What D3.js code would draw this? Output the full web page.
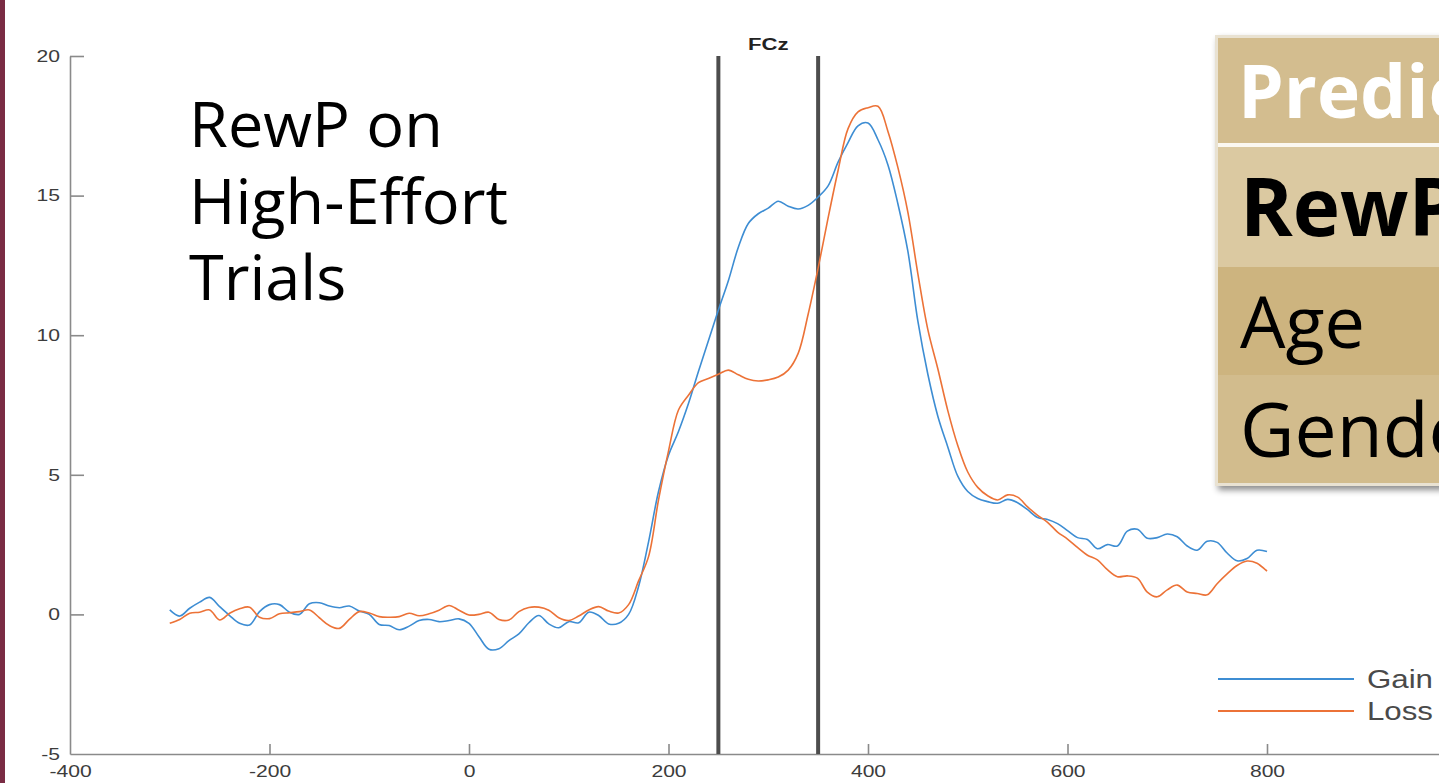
<!DOCTYPE html>
<html>
<head>
<meta charset="utf-8">
<script src="https://cdn.jsdelivr.net/npm/d3@7.9.0/dist/d3.min.js"></script>
<style>
  html, body { margin: 0; padding: 0; background: #fff; overflow: hidden; }
  svg { display: block; }
</style>
</head>
<body>
<svg id="chart" width="1439" height="783"></svg>
<script>
// time points (ms), one every 10 ms from -300 to 800
const times = d3.range(-300, 801, 10);

// Gain condition (blue)
const gainValues = [
  0.16, -0.06, 0.22, 0.44, 0.61, 0.28, -0.04, -0.32, -0.38, 0.1,
  0.35, 0.35, 0.08, 0.0, 0.38, 0.42, 0.3, 0.24, 0.3, 0.12,
  0.0, -0.36, -0.4, -0.55, -0.42, -0.22, -0.18, -0.26, -0.22, -0.16,
  -0.32, -0.8, -1.25, -1.23, -0.94, -0.7, -0.3, -0.04, -0.34, -0.48,
  -0.26, -0.3, 0.08, -0.04, -0.34, -0.32, 0.0, 1.0, 2.6, 4.4,
  5.7, 6.55, 7.55, 8.7, 9.8, 10.9, 11.95, 13.15, 14.0, 14.35,
  14.55, 14.8, 14.62, 14.52, 14.65, 14.95, 15.35, 16.2, 16.9, 17.5,
  17.6, 17.0, 16.1, 14.7, 13.0, 10.5, 8.6, 7.1, 6.0, 4.95,
  4.4, 4.15, 4.04, 3.98, 4.12, 4.0, 3.75, 3.47, 3.4, 3.25,
  3.0, 2.75, 2.68, 2.35, 2.5, 2.45, 2.98, 3.05, 2.73, 2.75,
  2.88, 2.78, 2.45, 2.3, 2.62, 2.58, 2.2, 1.92, 2.0, 2.3,
  2.25
];

// Loss condition (orange)
const lossValues = [
  -0.32, -0.18, 0.04, 0.08, 0.16, -0.2, 0.04, 0.2, 0.26, -0.1,
  -0.15, 0.02, 0.06, 0.1, 0.16, -0.12, -0.4, -0.5, -0.18, 0.1,
  0.05, -0.08, -0.1, -0.08, 0.04, -0.05, 0.02, 0.15, 0.32, 0.15,
  -0.02, 0.0, 0.08, -0.18, -0.2, 0.1, 0.25, 0.26, 0.15, -0.12,
  -0.22, -0.06, 0.16, 0.28, 0.12, 0.05, 0.35, 1.2, 2.07, 4.1,
  5.85, 7.32, 7.85, 8.3, 8.45, 8.6, 8.75, 8.58, 8.42, 8.36,
  8.4, 8.5, 8.75, 9.35, 10.75, 12.4, 14.2, 15.9, 17.4, 18.0,
  18.15, 18.2, 17.3, 16.0, 14.4, 12.2, 10.2, 8.8, 7.3, 6.05,
  5.1, 4.55, 4.25, 4.1, 4.28, 4.2, 3.85, 3.55, 3.3, 2.95,
  2.7, 2.4, 2.12, 1.95, 1.6, 1.35, 1.38, 1.3, 0.8, 0.63,
  0.88, 1.05, 0.8, 0.75, 0.7, 1.1, 1.45, 1.75, 1.91, 1.83,
  1.55
];

const seriesNames = ["Gain", "Loss"];
const seriesColors = ["#3d8dd3", "#ec7237"];

const xTicks = [-400, -200, 0, 200, 400, 600, 800];
const yTicks = [-5, 0, 5, 10, 15, 20];

// analysis window (ms)
const windowEdges = [250, 350];

const titleLines = ["RewP on", "High-Effort", "Trials"];
const tableRows = ["Predictor", "RewP", "Age", "Gender"];

const svg = d3.select("#chart");

// stretch factor of the original figure's small text
const sx = 1.28;

const x = d3.scaleLinear().domain([-400, 1000]).range([70, 1466.5]);
const y = d3.scaleLinear().domain([-5, 20]).range([754, 56]);

// maroon slide edge on the left
svg.append("rect")
  .attr("x", 0).attr("y", 0)
  .attr("width", 5).attr("height", 783)
  .attr("fill", "#7a2c44");

// axes
const axisColor = "#8a8a8a";
const labelColor = "#3c3c3c";
const plainFormat = d => String(d);

const yAxis = svg.append("g")
  .attr("transform", `translate(${x(-400)},0)`)
  .call(d3.axisLeft(y).tickValues(yTicks).tickFormat(plainFormat)
    .tickSize(-14).tickSizeOuter(0).tickPadding(10));

const xAxis = svg.append("g")
  .attr("transform", `translate(0,${y(-5)})`)
  .call(d3.axisBottom(x).tickValues(xTicks).tickFormat(plainFormat)
    .tickSize(-10).tickSizeOuter(0).tickPadding(11));

[yAxis, xAxis].forEach(g => {
  g.selectAll("path, line").attr("stroke", axisColor).attr("stroke-width", 1.6);
  g.selectAll("text")
    .attr("fill", labelColor)
    .style("font-family", "'Liberation Sans', Arial, sans-serif")
    .style("font-size", "16.5px");
});
// the original figure is stretched horizontally
yAxis.selectAll("text").attr("x", -10 / sx).attr("transform", `scale(${sx},1)`);
xAxis.selectAll("text").attr("x", 0).attr("transform", `scale(${sx},1)`);
yAxis.selectAll(".tick").filter(d => d === -5).select("line").remove();
xAxis.selectAll(".tick").filter(d => d === -400).select("line").remove();

// analysis window lines
svg.append("g").selectAll("line")
  .data(windowEdges)
  .join("line")
  .attr("x1", d => x(d)).attr("x2", d => x(d))
  .attr("y1", y(20)).attr("y2", y(-5))
  .attr("stroke", "#4d4d4d")
  .attr("stroke-width", 4);

svg.append("text")
  .attr("transform", `translate(${x(300)},50) scale(1.38,1)`)
  .attr("text-anchor", "middle")
  .style("font-family", "'Liberation Sans', Arial, sans-serif")
  .style("font-weight", "bold")
  .style("font-size", "16px")
  .attr("fill", "#222")
  .text("FCz");

// waveforms
const line = d3.line()
  .x(d => x(d[0]))
  .y(d => y(d[1]))
  .curve(d3.curveCatmullRom.alpha(0.5));

const series = [gainValues, lossValues];
svg.append("g").selectAll("path")
  .data(series)
  .join("path")
  .attr("d", vals => line(times.map((t, i) => [t, vals[i]])))
  .attr("fill", "none")
  .attr("stroke", (d, i) => seriesColors[i])
  .attr("stroke-width", 1.6)
  .attr("stroke-linejoin", "round");

// legend
const legend = svg.append("g").attr("transform", "translate(1218,679)");
legend.selectAll("line")
  .data(seriesNames)
  .join("line")
  .attr("x1", 0).attr("x2", 136)
  .attr("y1", (d, i) => i * 32).attr("y2", (d, i) => i * 32)
  .attr("stroke", (d, i) => seriesColors[i])
  .attr("stroke-width", 1.8);
legend.selectAll("text")
  .data(seriesNames)
  .join("text")
  .attr("transform", (d, i) => `translate(149,${i * 32 + 9}) scale(1.25,1)`)
  .style("font-family", "'Liberation Sans', Arial, sans-serif")
  .style("font-size", "25px")
  .attr("fill", "#4a4a4a")
  .text(d => d);

// slide title text
svg.append("g").selectAll("text")
  .data(titleLines)
  .join("text")
  .attr("x", 189)
  .attr("y", (d, i) => 147 + i * 76.5)
  .style("font-family", "'Open Sans', sans-serif")
  .style("font-size", "63px")
  .attr("fill", "#000")
  .text(d => d);

// predictor table (clipped by the slide edge)
const defs = svg.append("defs");
const shadow = defs.append("filter").attr("id", "shadow")
  .attr("x", "-10%").attr("y", "-10%").attr("width", "130%").attr("height", "130%");
shadow.append("feDropShadow")
  .attr("dx", 3).attr("dy", 4).attr("stdDeviation", 3)
  .attr("flood-color", "#000").attr("flood-opacity", 0.45);

const rowTops = [38, 147, 267, 375];
const rowHeights = [105, 120, 108, 108];
const rowFills = ["#d3bd8f", "#dbc9a1", "#cdb47f", "#d2bc8d"];
const rowFont = [
  { size: 73, weight: "bold", color: "#fff", base: 118 },
  { size: 80, weight: "bold", color: "#000", base: 236 },
  { size: 72, weight: "normal", color: "#000", base: 348 },
  { size: 75, weight: "normal", color: "#000", base: 457 }
];

const table = svg.append("g");
table.append("rect")
  .attr("x", 1215).attr("y", 35)
  .attr("width", 260).attr("height", 451)
  .attr("fill", "#e9e2d2")
  .attr("filter", "url(#shadow)");

table.selectAll("rect.row")
  .data(tableRows)
  .join("rect")
  .attr("class", "row")
  .attr("x", 1218)
  .attr("y", (d, i) => rowTops[i])
  .attr("width", 260)
  .attr("height", (d, i) => rowHeights[i])
  .attr("fill", (d, i) => rowFills[i]);

table.append("rect")
  .attr("x", 1218).attr("y", 143)
  .attr("width", 260).attr("height", 4)
  .attr("fill", "#fbf8f1");

table.selectAll("text")
  .data(tableRows)
  .join("text")
  .attr("x", (d, i) => i === 0 ? 1238 : 1240)
  .attr("y", (d, i) => rowFont[i].base)
  .style("font-family", "'Open Sans', sans-serif")
  .style("font-size", (d, i) => rowFont[i].size + "px")
  .style("font-weight", (d, i) => rowFont[i].weight)
  .attr("fill", (d, i) => rowFont[i].color)
  .text(d => d);
</script>
</body>
</html>
